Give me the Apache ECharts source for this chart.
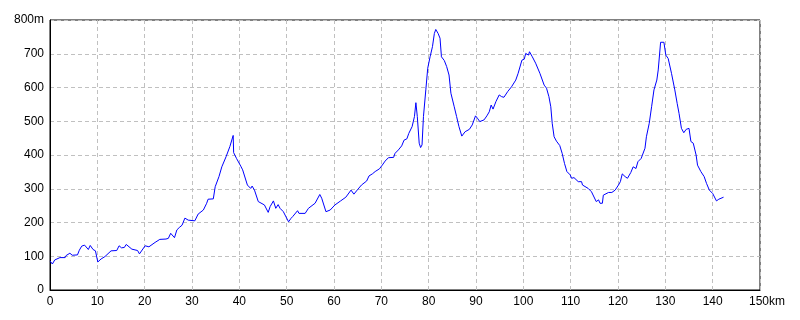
<!DOCTYPE html>
<html>
<head>
<meta charset="utf-8">
<script src="https://cdn.jsdelivr.net/npm/echarts@6/dist/echarts.min.js"></script>
<style>html,body{margin:0;padding:0;background:#fff}#c{width:800px;height:320px}</style>
</head>
<body>
<div id="c"></div>
<script>
// distance (km)
const distances = [0,0.5,1.0,2.1,3.2,3.4,4.2,4.7,5.8,6.2,6.7,7.3,8.1,8.5,9.1,9.6,10.1,10.8,11.6,12.9,14.1,14.6,15.1,15.7,16.1,17.3,18.5,18.9,20.1,20.9,22.2,23.2,24.5,25.0,25.5,25.9,26.3,26.8,27.3,27.9,28.5,29.2,30.6,31.3,32.4,33.1,33.4,34.5,34.9,35.7,36.3,37.2,38.0,38.7,38.8,39.4,40.3,40.7,41.7,42.4,42.7,43.2,44.0,44.4,45.3,46.1,46.5,47.2,47.7,48.2,48.6,49.3,50.4,50.9,51.3,52.3,52.6,53.9,54.6,56.0,57.0,57.4,58.3,59.2,60.2,61.4,62.5,63.6,64.2,64.9,65.8,66.9,67.4,68.1,68.7,69.6,70.2,70.8,71.5,72.6,72.9,73.6,74.3,74.8,75.4,75.8,76.5,77.0,77.3,77.6,78.0,78.3,78.6,78.9,79.4,79.8,80.3,80.8,81.2,81.5,82.0,82.4,82.7,83.3,83.8,84.3,84.7,85.4,85.9,86.4,87.0,87.7,88.6,89.2,89.9,90.3,90.8,91.7,92.3,92.8,93.2,93.6,94.2,94.9,95.4,95.9,96.7,97.5,98.4,98.9,99.3,99.7,100.2,100.5,101.1,101.3,101.9,102.6,103.5,104.4,104.9,105.4,105.8,106.1,106.5,107.0,107.7,108.2,108.7,109.2,109.9,110.2,110.7,111.6,112.3,112.5,113.7,114.4,114.8,115.4,115.9,116.2,116.7,116.9,118.0,118.7,119.4,120.1,120.5,120.9,121.5,122.0,122.7,123.2,123.8,124.2,124.9,125.7,126.0,126.6,127.1,127.6,128.2,128.5,129.0,129.7,130.1,130.6,131.3,132.0,132.5,132.9,133.4,133.9,134.4,135.0,135.4,135.9,136.5,136.8,137.5,138.2,138.7,139.3,140.0,140.3,140.8,141.3,141.7,142.3];
// elevation (m)
const elevations = [86,77,89,96,96,102,109,103,104,118,130,133,120,132,120,116,83,92,99,116,117,131,125,126,135,121,117,107,131,128,141,150,151,153,168,170,155,178,185,192,213,207,205,225,237,257,269,270,306,336,365,395,425,458,407,390,367,356,311,301,308,296,262,267,252,230,247,264,242,253,242,232,202,212,218,235,227,227,242,257,283,272,232,237,252,264,275,296,284,296,311,323,338,344,351,359,370,382,392,393,405,415,427,444,448,464,484,514,555,514,435,422,430,514,593,657,691,721,760,772,760,746,691,680,662,637,583,543,514,484,456,469,476,489,516,509,499,504,516,528,548,536,558,578,573,571,588,602,622,642,637,681,684,701,696,706,691,672,642,607,598,573,543,494,454,441,428,405,375,351,341,331,333,321,321,311,301,291,286,262,267,257,257,281,289,289,296,311,321,344,336,331,348,365,360,380,390,420,454,494,543,593,622,652,734,734,696,686,642,593,553,523,479,466,476,479,440,435,400,370,351,336,316,296,286,281,264,269,267,275];
// axis ticks
const xTicks = {min: 0, max: 150, interval: 10, unit: 'km'};
const yTicks = {min: 0, max: 800, interval: 100, unit: 'm'};

const points = distances.map((d, i) => [d, elevations[i]]);
const font = '"Liberation Sans", Arial, sans-serif';
const chart = echarts.init(document.getElementById('c'), null, {renderer: 'canvas'});
chart.setOption({
  animation: false,
  backgroundColor: '#fff',
  grid: {left: 50, right: 40, top: 20, bottom: 30, show: true, borderColor: '#000', borderWidth: 1, containLabel: false},
  xAxis: {
    type: 'value', min: xTicks.min, max: xTicks.max, interval: xTicks.interval,
    axisLine: {show: true, lineStyle: {color: '#000', width: 1}},
    axisTick: {show: false},
    splitLine: {show: true, lineStyle: {color: '#c0c0c0', type: [4, 3], width: 1}},
    axisLabel: {
      color: '#000', fontSize: 12, fontFamily: font, margin: 6, showMaxLabel: true,
      formatter: v => v === xTicks.max ? '{p|}' + v + xTicks.unit : String(v),
      rich: {p: {width: 14}}
    }
  },
  yAxis: {
    type: 'value', min: yTicks.min, max: yTicks.max, interval: yTicks.interval,
    axisLine: {show: true, lineStyle: {color: '#000', width: 1}},
    axisTick: {show: false},
    splitLine: {show: true, lineStyle: {color: '#c0c0c0', type: [4, 3], width: 1}},
    axisLabel: {
      color: '#000', fontSize: 12, fontFamily: font, margin: 6, showMaxLabel: true,
      formatter: v => v === yTicks.max ? v + yTicks.unit : String(v)
    }
  },
  series: [{
    type: 'line', data: points, showSymbol: false, symbol: 'none',
    lineStyle: {color: '#0000ff', width: 1}, silent: true
  }]
});
</script>
</body>
</html>
